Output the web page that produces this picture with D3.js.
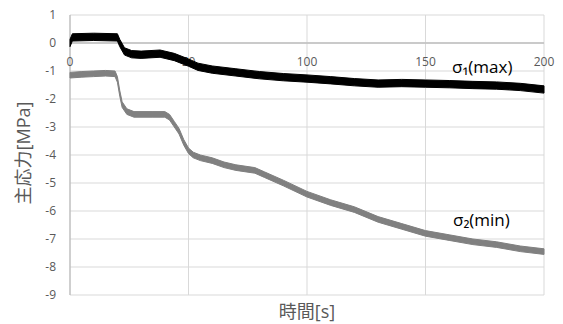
<!DOCTYPE html>
<html>
<head>
<meta charset="utf-8">
<script src="https://cdn.jsdelivr.net/npm/d3@7"></script>
<style>
  body { margin: 0; background: #fff; }
  text { font-family: "Open Sans", "Noto Sans CJK JP", sans-serif; }
</style>
</head>
<body>
<div id="chart"></div>
<script>
// values
var timeTicks = [0, 50, 100, 150, 200];
var stressTicks = [1, 0, -1, -2, -3, -4, -5, -6, -7, -8, -9];

var sigma1Time = [0, 1, 10, 20, 21, 23, 26, 30, 38, 44, 50, 54, 60, 70, 80, 90, 100, 110, 120, 130, 140, 150, 160, 170, 180, 190, 200];
var sigma1Vals = [0.0, 0.2, 0.22, 0.2, 0.0, -0.3, -0.4, -0.42, -0.38, -0.5, -0.7, -0.85, -0.95, -1.05, -1.15, -1.22, -1.27, -1.33, -1.4, -1.45, -1.43, -1.45, -1.47, -1.5, -1.52, -1.57, -1.66];
var sigma1Band = 0.13;

var sigma2Time = [0, 5, 10, 15, 19, 20, 21, 22, 24, 27, 35, 40, 42, 44, 46, 48, 50, 52, 55, 60, 65, 70, 78, 82, 90, 100, 110, 120, 130, 140, 150, 160, 170, 180, 190, 200];
var sigma2Vals = [-1.15, -1.12, -1.1, -1.08, -1.1, -1.3, -1.8, -2.2, -2.45, -2.55, -2.55, -2.55, -2.65, -2.9, -3.15, -3.55, -3.85, -4.0, -4.1, -4.2, -4.35, -4.45, -4.55, -4.7, -5.0, -5.4, -5.7, -5.95, -6.3, -6.55, -6.8, -6.95, -7.1, -7.2, -7.35, -7.45];
var sigma2Band = 0.1;

var W = 563, H = 324;
var m = {left: 70, right: 19, top: 15, bottom: 29};

var svg = d3.select("#chart").append("svg")
    .attr("width", W)
    .attr("height", H);

var x = d3.scaleLinear().domain([0, 200]).range([m.left, W - m.right]);
var y = d3.scaleLinear().domain([-9, 1]).range([H - m.bottom, m.top]);

// grid
svg.append("g").selectAll("line").data(stressTicks).enter().append("line")
    .attr("x1", x(0)).attr("x2", x(200))
    .attr("y1", function(d){ return y(d); }).attr("y2", function(d){ return y(d); })
    .attr("stroke", "#d9d9d9").attr("stroke-width", 1);
svg.append("g").selectAll("line").data(timeTicks.slice(1)).enter().append("line")
    .attr("x1", function(d){ return x(d); }).attr("x2", function(d){ return x(d); })
    .attr("y1", y(1)).attr("y2", y(-9))
    .attr("stroke", "#d9d9d9").attr("stroke-width", 1);

// axis lines
svg.append("line").attr("x1", x(0)).attr("x2", x(200)).attr("y1", y(0)).attr("y2", y(0))
    .attr("stroke", "#bfbfbf").attr("stroke-width", 1.5);
svg.append("line").attr("x1", x(0)).attr("x2", x(0)).attr("y1", y(1)).attr("y2", y(-9))
    .attr("stroke", "#bfbfbf").attr("stroke-width", 1.5);

// tick labels
svg.append("g").selectAll("text").data(stressTicks).enter().append("text")
    .attr("x", 56).attr("y", function(d){ return y(d); })
    .attr("dy", "0.35em").attr("text-anchor", "end")
    .attr("font-size", 12).attr("fill", "#595959")
    .text(function(d){ return d; });
svg.append("g").selectAll("text").data(timeTicks).enter().append("text")
    .attr("x", function(d){ return x(d); }).attr("y", y(0) + 19)
    .attr("dy", "0.35em").attr("text-anchor", "middle")
    .attr("font-size", 12).attr("fill", "#595959")
    .text(function(d){ return d; });

// series, drawn as a noise band
function band(times, vals, half, color) {
    var pts = times.map(function(t, i){ return {t: t, v: vals[i]}; });
    var area = d3.area()
        .x(function(d){ return x(d.t); })
        .y0(function(d){ return y(d.v - half); })
        .y1(function(d){ return y(d.v + half); });
    svg.append("path").datum(pts).attr("d", area)
        .attr("fill", color).attr("stroke", color).attr("stroke-width", 1);
}
band(sigma2Time, sigma2Vals, sigma2Band, "#808080");
band(sigma1Time, sigma1Vals, sigma1Band, "#000000");

// series labels
svg.append("text").attr("x", 452).attr("y", 73).attr("font-size", 17).attr("fill", "#000")
    .text("σ₁(max)");
svg.append("text").attr("x", 453).attr("y", 226).attr("font-size", 17).attr("fill", "#000")
    .text("σ₂(min)");

// axis titles
svg.append("text").attr("x", x(100)).attr("y", 318).attr("text-anchor", "middle")
    .attr("font-size", 18).attr("fill", "#595959")
    .text("時間[s]");
svg.append("text").attr("transform", "translate(30,153) rotate(-90)")
    .attr("text-anchor", "middle").attr("font-size", 18).attr("fill", "#595959")
    .text("主応力[MPa]");
</script>
</body>
</html>
